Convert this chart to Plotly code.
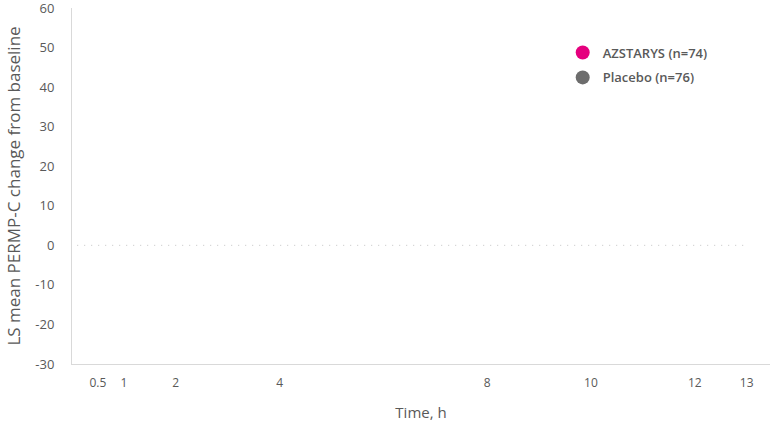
import plotly.graph_objects as go

# Data
x_ticks = [0.5, 1, 2, 4, 8, 10, 12, 13]
x_tick_labels = ["0.5", "1", "2", "4", "8", "10", "12", "13"]
y_ticks = [60, 50, 40, 30, 20, 10, 0, -10, -20, -30]
y_tick_labels = ["60", "50", "40", "30", "20", "10", "0", "-10", "-20", "-30"]
series_names = ["AZSTARYS (n=74)", "Placebo (n=76)"]
series_colors = ["#E5007E", "#6D6D6D"]
azstarys_x = []
azstarys_y = []
placebo_x = []
placebo_y = []
baseline_x = [0.1, 13]
baseline_y = [0, 0]

fig = go.Figure()

fig.add_trace(go.Scatter(
    x=baseline_x, y=baseline_y, mode="lines",
    line=dict(color="#c4c4c4", width=1, dash="1px,6px"),
    showlegend=False, hoverinfo="skip"))

for name, color, xs, ys, grp in [
    (series_names[0], series_colors[0], azstarys_x, azstarys_y, "a"),
    (series_names[1], series_colors[1], placebo_x, placebo_y, "b"),
]:
    fig.add_trace(go.Scatter(
        x=xs if xs else [None], y=ys if ys else [None],
        mode="markers", name=name, legendgroup=grp,
        marker=dict(color=color, size=14, symbol="circle"),
    ))

fig.update_layout(
    width=770, height=425,
    margin=dict(l=72, r=0, t=8, b=61, autoexpand=False),
    paper_bgcolor="white", plot_bgcolor="white",
    font=dict(family="Open Sans, Lato, sans-serif", color="#595959"),
    showlegend=True,
    legend=dict(
        x=0.703, y=0.917, xanchor="left", yanchor="top",
        traceorder="grouped", tracegroupgap=5,
        font=dict(size=13, color="#595959", family="Open Sans, sans-serif", weight=600),
        bgcolor="rgba(0,0,0,0)", itemwidth=30,
    ),
    xaxis=dict(
        range=[0, 13.45], tickvals=x_ticks, ticktext=x_tick_labels,
        showgrid=False, zeroline=False, showline=True, automargin=False,
        linecolor="#d9d9d9", linewidth=1, ticks="",
        tickfont=dict(size=12, color="#595959"),
        ticklabelstandoff=8,
        title=dict(text="Time, h", font=dict(size=15, color="#595959"), standoff=17),
    ),
    yaxis=dict(
        range=[-30, 60], tickvals=y_ticks, ticktext=y_tick_labels,
        showgrid=False, zeroline=False, showline=True, automargin=False,
        linecolor="#d9d9d9", linewidth=1, ticks="",
        tickfont=dict(size=13, color="#595959"),
        ticklabelstandoff=14, ticklabeloverflow="allow",
        title=dict(text="LS mean PERMP-C change from baseline",
                   font=dict(size=17, color="#595959"), standoff=10),
    ),
)

fig.write_html(
    "out.html",
    config={"displayModeBar": False},
    post_script="document.body.style.margin='0';document.body.style.overflow='hidden';",
)
